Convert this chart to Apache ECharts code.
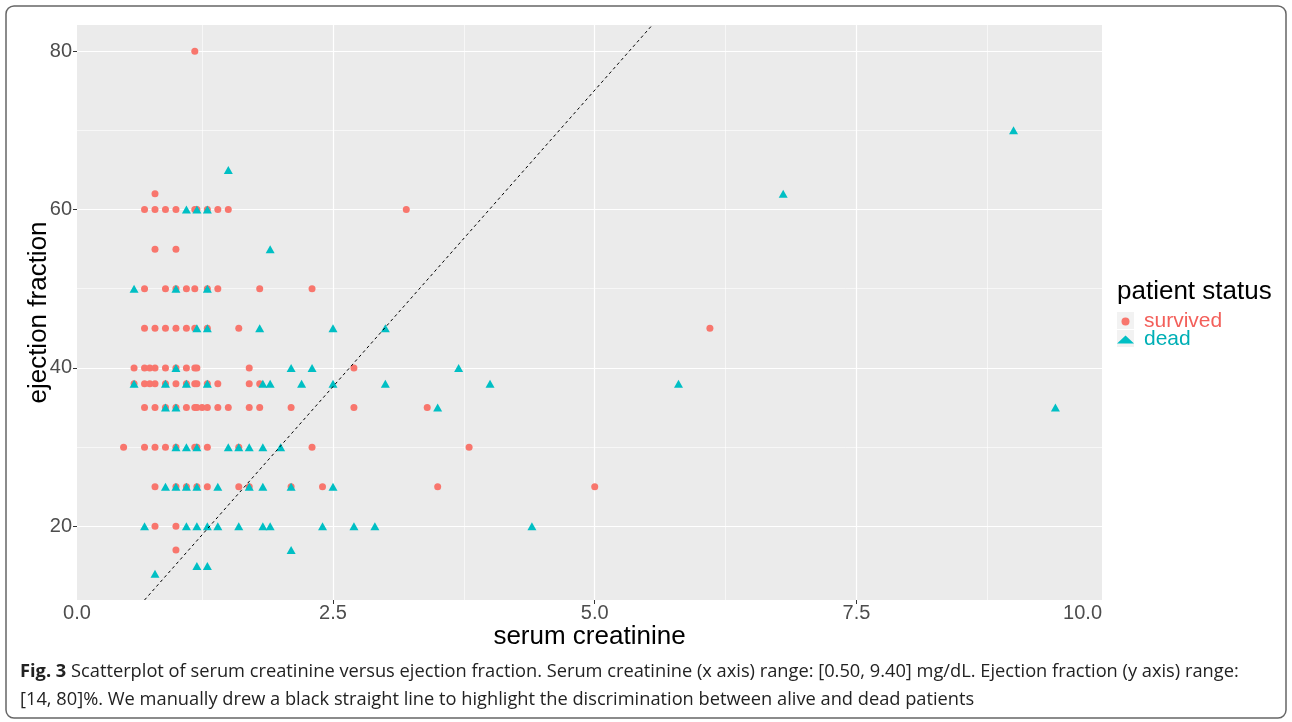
<!DOCTYPE html>
<html><head><meta charset="utf-8">
<script src="https://cdn.jsdelivr.net/npm/echarts@6/dist/echarts.min.js"></script>
<style>html,body{margin:0;padding:0;background:#fff}#c{width:1292px;height:722px}</style>
</head><body><div id="c"></div>
<script>
// ---- data (serum creatinine, ejection fraction) ----
const survived = [
  [1.18,80],[0.8,62],
  [0.7,60],[0.8,60],[0.9,60],[1.0,60],[1.18,60],[1.2,60],[1.3,60],[1.4,60],[1.5,60],[3.2,60],
  [0.8,55],[1.0,55],
  [0.7,50],[0.9,50],[1.0,50],[1.1,50],[1.18,50],[1.3,50],[1.4,50],[1.8,50],[2.3,50],
  [0.7,45],[0.8,45],[0.9,45],[1.0,45],[1.1,45],[1.18,45],[1.3,45],[1.6,45],[6.1,45],
  [0.6,40],[0.7,40],[0.75,40],[0.8,40],[0.9,40],[1.0,40],[1.1,40],[1.18,40],[1.2,40],[1.7,40],[2.7,40],
  [0.6,38],[0.7,38],[0.75,38],[0.8,38],[0.9,38],[1.0,38],[1.1,38],[1.18,38],[1.2,38],[1.3,38],[1.4,38],[1.7,38],[1.8,38],
  [0.7,35],[0.8,35],[0.9,35],[1.0,35],[1.1,35],[1.18,35],[1.2,35],[1.25,35],[1.3,35],[1.4,35],[1.5,35],[1.7,35],[1.8,35],[2.1,35],[2.7,35],[3.4,35],
  [0.5,30],[0.7,30],[0.8,30],[0.9,30],[1.0,30],[1.18,30],[1.2,30],[1.3,30],[1.6,30],[2.3,30],[3.8,30],
  [0.8,25],[1.0,25],[1.1,25],[1.2,25],[1.3,25],[1.6,25],[1.7,25],[2.1,25],[2.4,25],[3.5,25],[5.0,25],
  [0.8,20],[1.0,20],[1.0,17]
];
const dead = [
  [9.0,70],[1.5,65],[6.8,62],
  [1.1,60],[1.2,60],[1.3,60],
  [1.9,55],
  [0.6,50],[1.0,50],[1.3,50],
  [1.2,45],[1.3,45],[1.8,45],[2.5,45],[3.0,45],
  [1.0,40],[2.1,40],[2.3,40],[3.7,40],
  [0.6,38],[0.9,38],[1.1,38],[1.3,38],[1.83,38],[1.9,38],[2.2,38],[2.5,38],[3.0,38],[4.0,38],[5.8,38],
  [0.9,35],[1.0,35],[3.5,35],[9.4,35],
  [1.0,30],[1.1,30],[1.2,30],[1.5,30],[1.6,30],[1.7,30],[1.83,30],[2.0,30],
  [0.9,25],[1.0,25],[1.1,25],[1.2,25],[1.4,25],[1.7,25],[1.83,25],[2.1,25],[2.5,25],
  [0.7,20],[1.1,20],[1.2,20],[1.3,20],[1.4,20],[1.6,20],[1.83,20],[1.9,20],[2.4,20],[2.7,20],[2.9,20],[4.4,20],
  [2.1,17],[1.2,15],[1.3,15],[0.8,14]
];
const guideLine = [[0.70,10.7],[5.55,83.3]];
const xRange = [0.055, 9.845];
const yRange = [10.7, 83.3];
const xTickLabels = ['0.0','2.5','5.0','7.5','10.0'];
const xLabelValues = [0.055, 2.5, 5, 7.5, 9.845];
const xMajor = [2.5, 5, 7.5];
const xMinor = [1.25, 3.75, 6.25, 8.75];
const yMajor = [20, 40, 60, 80];
const yMinor = [30, 50, 70];
const seriesNames = ['survived', 'dead'];

const FONT = 'Liberation Sans, Arial, sans-serif';
const chart = echarts.init(document.getElementById('c'), null, {renderer: 'canvas', width: 1292, height: 722});

const hidden = {show: false};
chart.setOption({
  animation: false,
  backgroundColor: '#ffffff',
  grid: {left: 77, top: 25, width: 1025, height: 575, show: true, backgroundColor: '#EBEBEB', borderWidth: 0},
  xAxis: [
    {
      type: 'value', min: xRange[0], max: xRange[1],
      name: 'serum creatinine', nameLocation: 'middle', nameGap: 24, nameMoveOverlap: false,
      nameTextStyle: {fontFamily: FONT, fontSize: 26, color: '#000'},
      axisLine: hidden,
      axisTick: {show: true, customValues: xMajor, length: 4, lineStyle: {color: '#333', width: 1}},
      axisLabel: {show: true, customValues: xLabelValues, margin: 3, fontFamily: FONT, fontSize: 20, color: '#4D4D4D',
        alignMaxLabel: 'right',
        formatter: v => xTickLabels[Math.round(v / 2.5)]},
      splitLine: {show: true, lineStyle: {color: '#FFFFFF', width: 1.2}}
    },
    {
      type: 'value', min: xRange[0], max: xRange[1], position: 'bottom',
      axisLine: hidden, axisLabel: {show: false, customValues: xMinor},
      axisTick: {show: false, customValues: xMinor},
      splitLine: {show: true, lineStyle: {color: '#FFFFFF', width: 0.6}}
    }
  ],
  yAxis: [
    {
      type: 'value', min: yRange[0], max: yRange[1],
      name: 'ejection fraction', nameLocation: 'middle', nameGap: 25, nameRotate: 90, nameMoveOverlap: false,
      nameTextStyle: {fontFamily: FONT, fontSize: 26, color: '#000'},
      axisLine: hidden,
      axisTick: {show: true, customValues: yMajor, length: 4, lineStyle: {color: '#333', width: 1}},
      axisLabel: {show: true, customValues: yMajor, margin: 5, fontFamily: FONT, fontSize: 20, color: '#4D4D4D'},
      splitLine: {show: true, lineStyle: {color: '#FFFFFF', width: 1.2}}
    },
    {
      type: 'value', min: yRange[0], max: yRange[1], position: 'left',
      axisLine: hidden, axisLabel: {show: false, customValues: yMinor},
      axisTick: {show: false, customValues: yMinor},
      splitLine: {show: true, lineStyle: {color: '#FFFFFF', width: 0.6}}
    }
  ],
  legend: {
    orient: 'vertical', left: 1117, top: 311, padding: 0,
    itemWidth: 17, itemHeight: 8, itemGap: -3,
    data: [
      {name: seriesNames[0], textStyle: {color: '#F35F5A'}},
      {name: seriesNames[1], textStyle: {color: '#00AFB5'}}
    ],
    textStyle: {fontFamily: FONT, fontSize: 21, padding: [0, 0, 0, 5]}
  },
  graphic: [
    {type: 'rect', z: -1, shape: {x: 6, y: 6, width: 1280, height: 712, r: 8}, style: {fill: 'none', stroke: '#666', lineWidth: 1.5}},
    {type: 'rect', z: -1, shape: {x: 1117, y: 312, width: 17, height: 17}, style: {fill: '#F2F2F2'}},
    {type: 'rect', z: -1, shape: {x: 1117, y: 330, width: 17, height: 17}, style: {fill: '#F2F2F2'}},
    {type: 'text', left: 1117, top: 279, style: {text: 'patient status', font: '26px ' + FONT, fill: '#000'}},
    {type: 'text', left: 20, top: 657.5, style: {
      text: '{b|Fig. 3} Scatterplot of serum creatinine versus ejection fraction. Serum creatinine (x axis) range: [0.50, 9.40] mg/dL. Ejection fraction (y axis) range:\n[14, 80]%. We manually drew a black straight line to highlight the discrimination between alive and dead patients',
      font: '18.25px Open Sans', fill: '#222', lineHeight: 28,
      rich: {b: {fontWeight: 'bold', fontFamily: 'Open Sans', fontSize: 18.25, fill: '#222', lineHeight: 28}}
    }}
  ],
  series: [
    {name: seriesNames[0], type: 'scatter', xAxisIndex: 0, yAxisIndex: 0, symbol: 'circle', symbolSize: 7,
      data: survived, itemStyle: {color: '#F8766D', opacity: 1}, z: 2},
    {name: seriesNames[1], type: 'scatter', xAxisIndex: 0, yAxisIndex: 0, symbol: 'triangle', symbolSize: [9, 8],
      data: dead, itemStyle: {color: '#00BFC4', opacity: 1}, z: 3},
    {name: 'guide', type: 'line', xAxisIndex: 0, yAxisIndex: 0, data: guideLine, symbol: 'none', silent: true,
      lineStyle: {color: '#000', width: 1, type: [3, 3]}, z: 4}
  ]
});
</script></body></html>
